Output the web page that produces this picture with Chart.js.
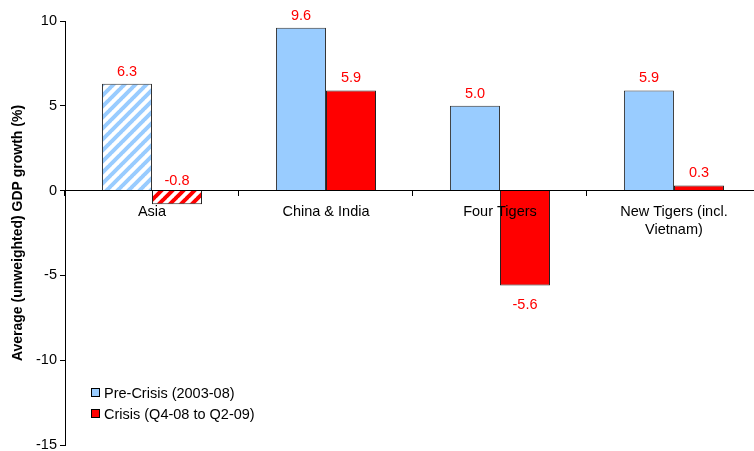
<!DOCTYPE html>
<html>
<head>
<meta charset="utf-8">
<script src="https://cdn.jsdelivr.net/npm/chart.js@4"></script>
<style>
  html, body { margin: 0; padding: 0; background: #fff; }
  #wrap { width: 754px; height: 451px; }
</style>
</head>
<body>
<div id="wrap"><canvas id="myChart" width="754" height="451"></canvas></div>
<script>
// Data
const categories = ['Asia', 'China & India', 'Four Tigers', ['New Tigers (incl.', 'Vietnam)']];
const preCrisis = [6.3, 9.6, 5.0, 5.9];
const crisis = [-0.8, 5.9, -5.6, 0.3];
const seriesNames = ['Pre-Crisis (2003-08)', 'Crisis (Q4-08 to Q2-09)'];
const yTicks = [10, 5, 0, -5, -10, -15];

const BLUE = '#99CCFF';
const RED = '#FF0000';
const FONT = '"Liberation Sans", Arial, sans-serif';
const FS = 14.5;

// diagonal stripes for the Asia aggregate
function stripes(color) {
    const s = 11;
    const c = document.createElement('canvas');
    c.width = s; c.height = s;
    const g = c.getContext('2d');
    g.fillStyle = '#fff';
    g.fillRect(0, 0, s, s);
    g.strokeStyle = color;
    g.lineWidth = 4;
    g.beginPath();
    for (let k = -1; k <= 1; k++) {
        g.moveTo(k * s - 1, s + 1);
        g.lineTo(k * s + s + 1, -1);
    }
    g.stroke();
    return g.createPattern(c, 'repeat');
}

const ctx = document.getElementById('myChart').getContext('2d');

const blueFills = preCrisis.map((v, i) => i === 0 ? stripes(BLUE) : BLUE);
const redFills = crisis.map((v, i) => i === 0 ? stripes(RED) : RED);

const valueLabels = {
    id: 'valueLabels',
    afterDatasetsDraw(chart) {
        const c = chart.ctx;
        c.save();
        c.font = FS + 'px ' + FONT;
        c.fillStyle = RED;
        c.textAlign = 'center';
        chart.data.datasets.forEach((ds, di) => {
            chart.getDatasetMeta(di).data.forEach((bar, i) => {
                const v = ds.data[i];
                const txt = v.toFixed(1);
                if (v >= 0) {
                    c.textBaseline = 'bottom';
                    c.fillText(txt, bar.x, bar.y - 5);
                } else if (v > -1) {
                    c.textBaseline = 'bottom';
                    c.fillText(txt, bar.x, bar.base - 3);
                } else {
                    c.textBaseline = 'top';
                    c.fillText(txt, bar.x, bar.y + 12);
                }
            });
        });
        c.restore();
    }
};

const boxLegend = {
    id: 'boxLegend',
    afterDraw(chart) {
        const c = chart.ctx;
        c.save();
        c.font = FS + 'px ' + FONT;
        c.textBaseline = 'middle';
        const items = [[BLUE, seriesNames[0]], [RED, seriesNames[1]]];
        items.forEach((it, i) => {
            const y = 393 + i * 21;
            c.fillStyle = it[0];
            c.fillRect(91, y - 5, 9, 9);
            c.strokeStyle = '#000';
            c.lineWidth = 1;
            c.strokeRect(91.5, y - 4.5, 8, 8);
            c.fillStyle = '#000';
            c.fillText(it[1], 104, y + 1);
        });
        c.restore();
    }
};

const myChart = new Chart(ctx, {
    type: 'bar',
    data: {
        labels: categories,
        datasets: [
            {
                label: seriesNames[0],
                data: preCrisis,
                backgroundColor: blueFills,
                borderColor: '#333',
                borderWidth: 1,
                categoryPercentage: 0.575,
                barPercentage: 1.0,
            },
            {
                label: seriesNames[1],
                data: crisis,
                backgroundColor: redFills,
                borderColor: '#222',
                borderWidth: 1,
                categoryPercentage: 0.575,
                barPercentage: 1.0,
            },
        ],
    },
    options: {
        responsive: false,
        animation: false,
        layout: { padding: { top: 21, bottom: 6, left: 10, right: 0 } },
        plugins: {
            legend: { display: false },
            tooltip: { enabled: false },
        },
        scales: {
            x: {
                position: { y: 0 },
                offset: true,
                // the original axis runs a little past the right edge,
                // so the last category is cut slightly short
                afterBuildTicks(scale) {
                    scale._valueRange = 3.96;
                },
                grid: {
                    display: true,
                    drawOnChartArea: false,
                    offset: true,
                    tickLength: 5,
                    color: '#000',
                },
                border: { color: '#000', width: 1 },
                ticks: {
                    z: 1,
                    color: '#000',
                    font: { family: FONT, size: FS },
                    padding: 8,
                    maxRotation: 0,
                },
            },
            y: {
                min: -15,
                max: 10,
                afterBuildTicks(scale) {
                    scale.ticks = yTicks.map(v => ({ value: v }));
                },
                afterFit(scale) {
                    scale.width = 55;
                    scale.paddingTop = 0;
                    scale.paddingBottom = 0;
                },
                grid: {
                    display: true,
                    drawOnChartArea: false,
                    tickLength: 5,
                    color: '#000',
                },
                border: { color: '#000', width: 1 },
                ticks: {
                    color: '#000',
                    font: { family: FONT, size: FS },
                    padding: 3,
                },
                title: {
                    display: true,
                    text: 'Average (unweighted) GDP growth (%)',
                    color: '#000',
                    font: { family: FONT, size: 14, weight: 'bold' },
                    padding: 0,
                },
            },
        },
    },
    plugins: [valueLabels, boxLegend],
});
</script>
</body>
</html>
